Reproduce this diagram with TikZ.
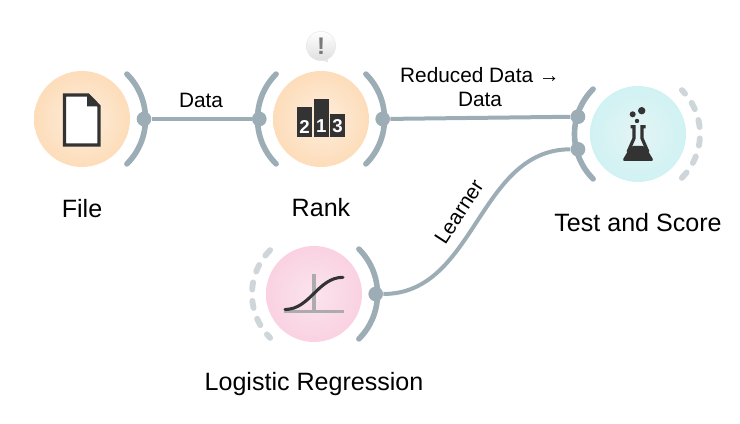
\documentclass[tikz,border=0pt]{standalone}
\usepackage{fontspec}
\setmainfont{Liberation Sans}
\definecolor{portgray}{HTML}{9CADB6}
\definecolor{idlegray}{HTML}{CFD6D9}
\definecolor{icondark}{HTML}{333333}
\definecolor{orangeout}{HTML}{FCCB96}
\definecolor{orangein}{HTML}{FEEEDD}
\definecolor{tealout}{HTML}{BDF0F0}
\definecolor{tealin}{HTML}{E4F4F5}
\definecolor{pinkout}{HTML}{F8BFD6}
\definecolor{pinkin}{HTML}{FBE4EE}
\pgfdeclareradialshading{orangeglow}{\pgfpointorigin}{color(0bp)=(orangein);color(50bp)=(orangeout)}
\pgfdeclareradialshading{tealglow}{\pgfpointorigin}{color(0bp)=(tealin);color(50bp)=(tealout)}
\pgfdeclareradialshading{pinkglow}{\pgfpointorigin}{color(0bp)=(pinkin);color(50bp)=(pinkout)}
\tikzset{
  widget/.style={circle,minimum size=72pt,inner sep=0pt},
  portarc/.style={portgray,line width=4.2pt,line cap=round},
  idlearc/.style={idlegray,line width=4.4pt,line cap=round,dash pattern=on 5.4pt off 8.5pt},
  portdot/.style={circle,fill=portgray,minimum size=11pt,inner sep=0pt},
  link/.style={portgray,line width=3pt},
  biglabel/.style={font=\fontsize{18.8}{22}\selectfont},
  linklabel/.style={font=\fontsize{15.6}{18}\selectfont,align=center},
  iconline/.style={icondark,line width=2.3pt},
  podiumdigit/.style={font=\fontsize{14}{16}\selectfont\bfseries,text=white,inner sep=0pt}
}
\begin{document}
\begin{tikzpicture}[x=0.75pt,y=0.75pt]
      \useasboundingbox (0,0) rectangle (740,424);
      \node[widget,shading=orangeglow] (file) at (82,305) {};
      \node[widget,shading=orangeglow] (rank) at (321,305) {};
      \node[widget,shading=tealglow] (test) at (638,290) {};
      \node[widget,shading=pinkglow] (logreg) at (314,130) {};

      \draw[portarc] (file) ++(-45:63.5) arc[start angle=-45,end angle=45,radius=63.5];
      \draw[portarc] (rank) ++(135:63.5) arc[start angle=135,end angle=225,radius=63.5];
      \draw[portarc] (rank) ++(-45:63.5) arc[start angle=-45,end angle=45,radius=63.5];
      \draw[portarc] (test) ++(135:63.5) arc[start angle=135,end angle=225,radius=63.5];
      \draw[idlearc] (test) ++(-45:62) arc[start angle=-45,end angle=45,radius=62];
      \draw[portarc] (logreg) ++(-45:63.5) arc[start angle=-45,end angle=45,radius=63.5];
      \draw[idlearc] (logreg) ++(135:62) arc[start angle=135,end angle=225,radius=62];

      \node[portdot] (fileout) at (144,305) {};
      \node[portdot] (rankin) at (259.3,305) {};
      \node[portdot] (rankout) at (382.7,305) {};
      \node[portdot] (testdata) at (578,307.3) {};
      \node[portdot] (testlearner) at (578,274.7) {};
      \node[portdot] (logregout) at (375.7,130) {};

      \draw[link] (fileout) -- (rankin);
      \draw[link] (rankout) -- (testdata);
      \draw[link] (logregout) .. controls +(100,0) and +(-100,0) .. (testlearner);

      \node[linklabel] (datalabel) at (201,323.5) {Data};
      \node[linklabel] (reducedlabel) at (480,337) {Reduced Data →\\Data};
      \node[linklabel,rotate=57] (learnerlabel) at (459,212) {Learner};

      \node[biglabel] (filename) at (82,215) {File};
      \node[biglabel] (rankname) at (321,216) {Rank};
      \node[biglabel] (testname) at (638,201) {Test and Score};
      \node[biglabel] (logregname) at (314,40) {Logistic Regression};

      % icons
      \draw[iconline,fill=white,line join=miter] (64.5,329) -- (88.3,329) -- (99,318) -- (99,279) -- (64.5,279) -- cycle;
      \fill[icondark] (87,330) -- (100,317.5) -- (87,317.5) -- cycle;

      \fill[icondark] (297,287.3) rectangle (312.3,317);
      \fill[icondark] (313.7,287.3) rectangle (328.7,324.7);
      \fill[icondark] (330,287.3) rectangle (345,309.7);
      \node[podiumdigit] (second) at (304.6,297.5) {2};
      \node[podiumdigit] (first) at (321.2,297.5) {1};
      \node[podiumdigit] (third) at (337.5,297.5) {3};

      \fill[icondark] (641.7,313.3) circle (3.7);
      \fill[icondark] (632.7,309.7) circle (3);
      \fill[icondark] (637,303) circle (2.2);
      \draw[iconline,line width=2.4pt] (630.5,297.3) -- (634,297.3) -- (634,285.7) -- (628,272);
      \draw[iconline,line width=2.4pt] (645.5,297.3) -- (642,297.3) -- (642,285.7) -- (648,272);
      \fill[icondark,rounded corners=2pt] (631,278) -- (645,278) -- (654,263) -- (622,263) -- cycle;

      \draw[gray!65,line width=2.6pt] (314,150) -- (314,112.3);
      \draw[gray!65,line width=2.6pt] (284,112.3) -- (344,112.3);
      \draw[iconline,line cap=round] (285,114.5) .. controls (310,114.5) and (318,146.7) .. (343,146.7);

      \fill[gray!18] (314,368) -- (327.8,361.5) -- (328,370) -- cycle;
      \node[circle,minimum size=22pt,inner sep=0pt,top color=white,bottom color=gray!25,draw=gray!18,text=gray!95!black,font=\fontsize{18}{18}\selectfont\bfseries] (warning) at (321,378) {!};
\end{tikzpicture}
\end{document}
